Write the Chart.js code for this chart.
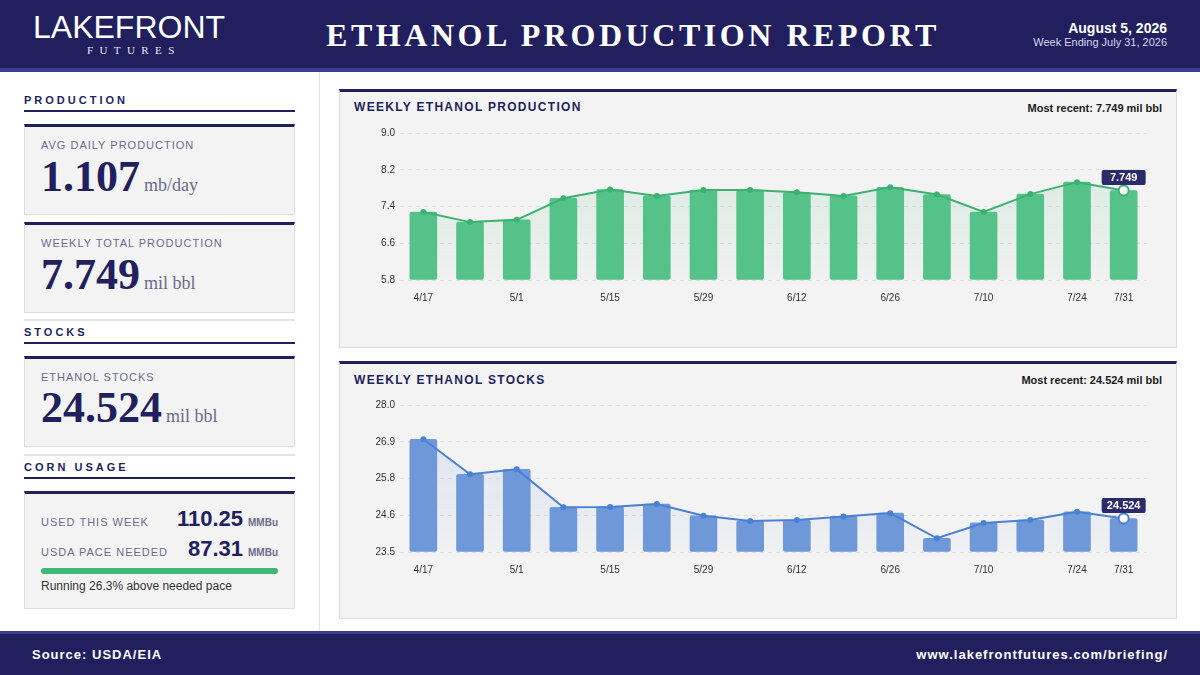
<!DOCTYPE html>
<html>
<head>
<meta charset="utf-8">
<script src="https://cdn.jsdelivr.net/npm/chart.js@4.4.1/dist/chart.umd.min.js"></script>
<style>
  * { margin: 0; padding: 0; box-sizing: border-box; }
  body { width: 1200px; height: 675px; position: relative; overflow: hidden; background: #fff; font-family: "Liberation Sans", Arial, sans-serif; }
  .abs { position: absolute; white-space: nowrap; }
  .header { position: absolute; left: 0; top: 0; width: 1200px; height: 72px; background: #211f5e; border-bottom: 4px solid #3b3b8f; }
  .footer { position: absolute; left: 0; top: 631px; width: 1200px; height: 44px; background: #211f5e; border-top: 3px solid #3b3b8f; }
  .leftcol { position: absolute; left: 0; top: 72px; width: 320px; height: 559px; border-right: 1px solid #e2e2e2; }
  .sec { font-size: 11px; line-height: 11px; font-weight: bold; letter-spacing: 3px; color: #211f5e; }
  .rule { position: absolute; left: 24px; width: 271px; height: 2px; background: #211f5e; }
  .sep { position: absolute; left: 24px; width: 271px; height: 2px; background: #e4e4e4; }
  .card { position: absolute; left: 24px; width: 271px; background: #f3f3f3; border: 1px solid #dcdcdc; border-top: 3px solid #211f5e; }
  .lbl { font-size: 11px; line-height: 11px; letter-spacing: 1px; color: #6b6b8e; }
  .big { font-family: "Liberation Serif", "Times New Roman", serif; font-weight: bold; font-size: 44px; line-height: 44px; color: #211f5e; }
  .big span { font-weight: normal; font-size: 18px; color: #6b6b8e; margin-left: 4px; }
  .cv { font-size: 22px; line-height: 22px; font-weight: bold; color: #211f5e; }
  .cv span { font-size: 10px; color: #6b6b8e; margin-left: 5px; }
  .ccard { position: absolute; left: 339px; width: 838px; background: #f3f3f3; border: 1px solid #dcdcdc; border-top: 3px solid #211f5e; }
  .ctitle { font-size: 12px; line-height: 12px; font-weight: bold; letter-spacing: 1.3px; color: #211f5e; }
  .recent { font-size: 11px; line-height: 11px; font-weight: bold; color: #1a1a1a; }
  .wrap { position: absolute; left: 354px; width: 808px; height: 192px; }
</style>
</head>
<body>
<div class="header"></div>
<div class="abs" style="left:33px;top:11px;font-size:32px;line-height:32px;color:#fff;">LAKEFRONT</div>
<div class="abs" style="left:87px;top:45px;font-family:'Liberation Serif',serif;font-size:11px;line-height:11px;letter-spacing:6.4px;color:#e6e6f2;">FUTURES</div>
<div class="abs" style="left:326px;top:19px;width:614px;text-align:center;font-family:'Liberation Serif',serif;font-weight:bold;font-size:32px;line-height:32px;letter-spacing:3.55px;color:#fff;">ETHANOL PRODUCTION REPORT</div>
<div class="abs" style="right:33px;top:21px;font-size:14px;line-height:14px;font-weight:bold;color:#fff;">August 5, 2026</div>
<div class="abs" style="right:33px;top:37px;font-size:11px;line-height:11px;color:#d6d6f0;">Week Ending July 31, 2026</div>

<div class="leftcol"></div>
<div class="abs sec" style="left:24px;top:95px;">PRODUCTION</div>
<div class="rule" style="top:110px;"></div>
<div class="card" style="top:124px;height:91px;"></div>
<div class="abs lbl" style="left:41px;top:140px;">AVG DAILY PRODUCTION</div>
<div class="abs big" style="left:41px;top:155px;">1.107<span>mb/day</span></div>
<div class="card" style="top:222px;height:91px;"></div>
<div class="abs lbl" style="left:41px;top:238px;">WEEKLY TOTAL PRODUCTION</div>
<div class="abs big" style="left:41px;top:253px;">7.749<span>mil bbl</span></div>
<div class="sep" style="top:319px;"></div>
<div class="abs sec" style="left:24px;top:327px;">STOCKS</div>
<div class="rule" style="top:342px;"></div>
<div class="card" style="top:356px;height:91px;"></div>
<div class="abs lbl" style="left:41px;top:372px;">ETHANOL STOCKS</div>
<div class="abs big" style="left:41px;top:386px;">24.524<span>mil bbl</span></div>
<div class="sep" style="top:454px;"></div>
<div class="abs sec" style="left:24px;top:462px;">CORN USAGE</div>
<div class="rule" style="top:477px;"></div>
<div class="card" style="top:491px;height:118px;"></div>
<div class="abs lbl" style="left:41px;top:517px;">USED THIS WEEK</div>
<div class="abs cv" style="right:922px;top:508px;">110.25<span>MMBu</span></div>
<div class="abs lbl" style="left:41px;top:547px;">USDA PACE NEEDED</div>
<div class="abs cv" style="right:922px;top:538px;">87.31<span>MMBu</span></div>
<div class="abs" style="left:41px;top:568px;width:237px;height:6px;border-radius:3px;background:#3cb878;"></div>
<div class="abs" style="left:41px;top:580px;font-size:12px;line-height:12px;color:#333;">Running 26.3% above needed pace</div>

<div class="ccard" style="top:89px;height:259px;"></div>
<div class="abs ctitle" style="left:354px;top:101px;">WEEKLY ETHANOL PRODUCTION</div>
<div class="abs recent" style="right:38px;top:103px;">Most recent: 7.749 mil bbl</div>
<div class="wrap" style="top:121px;"><canvas id="prodChart"></canvas></div>

<div class="ccard" style="top:361px;height:258px;"></div>
<div class="abs ctitle" style="left:354px;top:374px;">WEEKLY ETHANOL STOCKS</div>
<div class="abs recent" style="right:38px;top:375px;">Most recent: 24.524 mil bbl</div>
<div class="wrap" style="top:393px;"><canvas id="stockChart"></canvas></div>

<div class="footer"></div>
<div class="abs" style="left:32px;top:648px;font-size:13px;line-height:13px;font-weight:bold;letter-spacing:1px;color:#fff;">Source: USDA/EIA</div>
<div class="abs" style="right:32px;top:648px;font-size:13px;line-height:13px;font-weight:bold;letter-spacing:1px;color:#fff;">www.lakefrontfutures.com/briefing/</div>

<script>
const weeks = ['4/17', '4/24', '5/1', '5/8', '5/15', '5/22', '5/29', '6/5', '6/12', '6/19', '6/26', '7/3', '7/10', '7/17', '7/24', '7/31'];
const production = [7.28, 7.06, 7.11, 7.58, 7.77, 7.63, 7.76, 7.76, 7.71, 7.63, 7.82, 7.66, 7.28, 7.67, 7.93, 7.749];
const stocks = [26.95, 25.88, 26.03, 24.87, 24.88, 24.97, 24.61, 24.45, 24.48, 24.59, 24.69, 23.92, 24.39, 24.48, 24.73, 24.524];
const prodTicks = ['5.8', '6.6', '7.4', '8.2', '9.0'];
const stockTicks = ['23.5', '24.6', '25.8', '26.9', '28.0'];

// badge over the last point
const lastBadge = {
  id: 'lastBadge',
  afterDatasetsDraw(chart) {
    const meta = chart.getDatasetMeta(1);
    const pt = meta.data[meta.data.length - 1];
    const txt = chart.data.datasets[1].data[meta.data.length - 1].toString();
    const ctx = chart.ctx;
    ctx.save();
    ctx.font = 'bold 11px "Liberation Sans", Arial, sans-serif';
    const w = 44, h = 15;
    const x = pt.x - w / 2, y = pt.y - 13 - h / 2;
    ctx.fillStyle = '#2b2a6b';
    ctx.beginPath();
    ctx.roundRect(x, y, w, h, 2);
    ctx.fill();
    ctx.fillStyle = '#fff';
    ctx.textAlign = 'center';
    ctx.textBaseline = 'middle';
    ctx.fillText(txt, pt.x, y + h / 2 + 0.5);
    ctx.restore();
  }
};

function makeChart(id, values, tickLabels, barColor, lineColor, fillRgb) {
  const min = parseFloat(tickLabels[0]);
  const max = parseFloat(tickLabels[tickLabels.length - 1]);
  const n = values.length;
  return new Chart(document.getElementById(id), {
    type: 'bar',
    data: {
      labels: weeks,
      datasets: [{
        type: 'bar',
        data: values,
        base: min,
        backgroundColor: barColor,
        borderRadius: 2,
        borderSkipped: false,
        barThickness: 27,
        order: 2
      }, {
        type: 'line',
        data: values,
        borderColor: lineColor,
        borderWidth: 2,
        tension: 0,
        pointRadius: values.map((v, i) => i === n - 1 ? 5 : 3),
        pointBackgroundColor: values.map((v, i) => i === n - 1 ? '#fff' : lineColor),
        pointBorderColor: lineColor,
        pointBorderWidth: values.map((v, i) => i === n - 1 ? 2 : 0),
        fill: 'start',
        backgroundColor: (c) => {
          const area = c.chart.chartArea;
          if (!area) return 'rgba(0,0,0,0)';
          const g = c.chart.ctx.createLinearGradient(0, area.top, 0, area.bottom);
          g.addColorStop(0, 'rgba(' + fillRgb + ',0.16)');
          g.addColorStop(1, 'rgba(' + fillRgb + ',0.02)');
          return g;
        },
        order: 1
      }]
    },
    options: {
      responsive: true,
      maintainAspectRatio: false,
      animation: false,
      layout: { padding: { top: 12, right: 15, bottom: 5, left: 0 } },
      plugins: {
        legend: { display: false },
        tooltip: { enabled: false },
        filler: { drawTime: 'beforeDatasetsDraw' }
      },
      scales: {
        x: {
          grid: { display: false, drawTicks: false },
          border: { display: false },
          afterFit: (s) => { s.height = 28; },
          ticks: {
            autoSkip: false,
            maxRotation: 0,
            padding: 12,
            color: '#333',
            font: { size: 10, family: '"Liberation Sans", Arial, sans-serif' },
            callback: (v, i) => (i % 2 === 0 || i === n - 1) ? weeks[i] : ''
          }
        },
        y: {
          min: min,
          max: max,
          grid: { color: '#dedede', drawTicks: false },
          border: { display: false, dash: [4, 4] },
          afterFit: (s) => { s.width = 46; },
          afterBuildTicks: (s) => {
            s.ticks = tickLabels.map((t, i) => ({ value: min + i * (max - min) / (tickLabels.length - 1) }));
          },
          ticks: {
            padding: 5,
            color: '#333',
            font: { size: 10, family: '"Liberation Sans", Arial, sans-serif' },
            callback: (v, i) => tickLabels[i]
          }
        }
      }
    },
    plugins: [lastBadge]
  });
}

makeChart('prodChart', production, prodTicks, '#55c28a', '#3bb26f', '60,180,115');
makeChart('stockChart', stocks, stockTicks, '#6f98d8', '#4a80d6', '80,130,215');
</script>
</body>
</html>
